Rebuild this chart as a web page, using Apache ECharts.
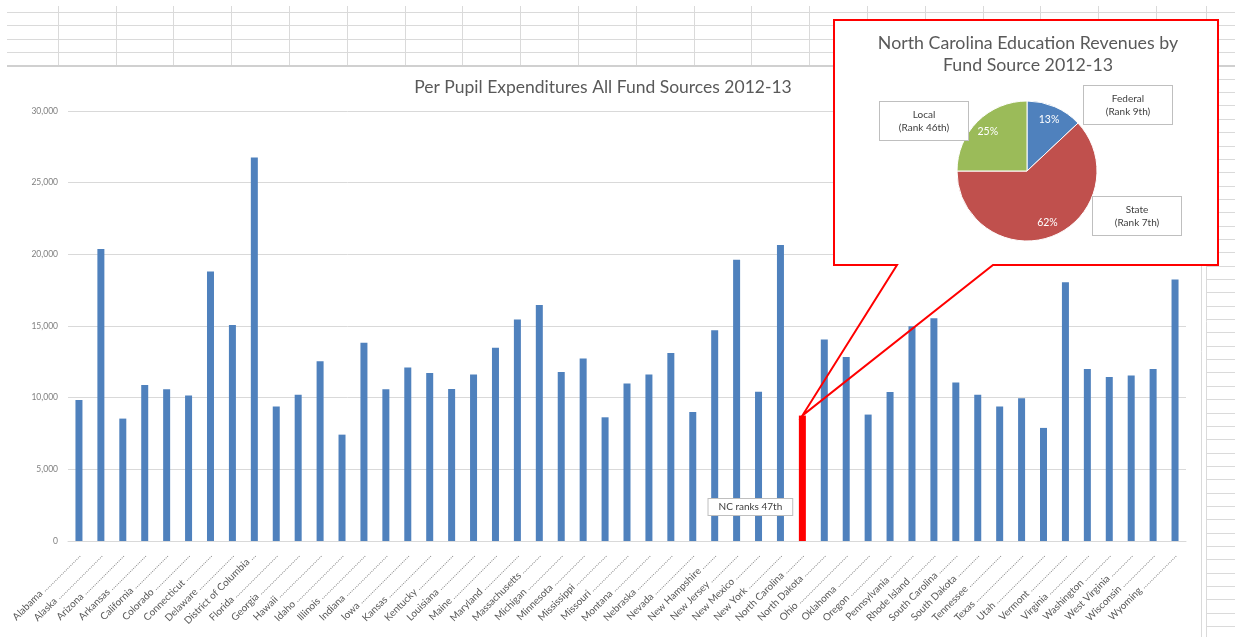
<!DOCTYPE html>
<html>
<head>
<meta charset="utf-8">
<script src="https://cdn.jsdelivr.net/npm/echarts@6/dist/echarts.min.js"></script>
<style>
  html, body { margin: 0; padding: 0; background: #fff; }
  #main { width: 1235px; height: 637px; }
</style>
</head>
<body>
<div id="main"></div>
<script>
// per pupil expenditures, all fund sources, 2012-13
const states = ['Alabama', 'Alaska', 'Arizona', 'Arkansas', 'California', 'Colorado', 'Connecticut',
  'Delaware', 'District of Columbia', 'Florida', 'Georgia', 'Hawaii', 'Idaho', 'Illinois', 'Indiana',
  'Iowa', 'Kansas', 'Kentucky', 'Louisiana', 'Maine', 'Maryland', 'Massachusetts', 'Michigan',
  'Minnesota', 'Mississippi', 'Missouri', 'Montana', 'Nebraska', 'Nevada', 'New Hampshire',
  'New Jersey', 'New Mexico', 'New York', 'North Carolina', 'North Dakota', 'Ohio', 'Oklahoma',
  'Oregon', 'Pennsylvania', 'Rhode Island', 'South Carolina', 'South Dakota', 'Tennessee', 'Texas',
  'Utah', 'Vermont', 'Virginia', 'Washington', 'West Virginia', 'Wisconsin', 'Wyoming'];
const expenditures = [9840, 20370, 8540, 10890, 10590, 10150, 18800, 15070, 26750, 9380, 10210,
  12540, 7420, 13840, 10590, 12100, 11720, 10610, 11610, 13490, 15450, 16470, 11790, 12730, 8630,
  10980, 11610, 13120, 9000, 14700, 19630, 10420, 20650, 8750, 14050, 12840, 8820, 10400, 14980,
  15540, 11050, 10210, 9380, 9960, 7890, 18050, 12000, 11450, 11540, 12000, 18240];
const yMin = 0, yMax = 30000, yStep = 5000;
const highlightState = 'North Carolina';
const highlightNote = 'NC ranks 47th';

// NC revenues by fund source
const fundSources = ['Federal', 'State', 'Local'];
const fundShares = [13, 62, 25];
const fundRanks = ['9th', '7th', '46th'];

const mainTitle = 'Per Pupil Expenditures All Fund Sources 2012-13';
const pieTitle = ['North Carolina Education Revenues by', 'Fund Source 2012-13'];

const BLUE = '#4f81bd', RED = '#c0504d', GREEN = '#9bbb59';
const FONT = 'Lato, "Open Sans", sans-serif';

// pad axis names with dot leaders, like the sheet does
const ctx = document.createElement('canvas').getContext('2d');
function padLabel(name) {
  ctx.font = '10px Lato';
  const w = ctx.measureText(name + ' ').width;
  ctx.font = '9px Lato';
  const dw = ctx.measureText('.').width;
  const n = Math.max(3, Math.round((92 - w) / dw));
  return '{n|' + name + ' }{d|' + '.'.repeat(n) + '}';
}

// spreadsheet cells behind the chart
const sheet = [];
const rowH = 13.35, row0 = 12;
function hline(x1, x2, y, w, c) {
  sheet.push({ type: 'line', silent: true, z: -10,
    shape: { x1: x1, y1: y, x2: x2, y2: y },
    style: { stroke: c || '#dadada', lineWidth: w || 1 } });
}
function vline(x, y1, y2, c) {
  sheet.push({ type: 'line', silent: true, z: -10,
    shape: { x1: x, y1: y1, x2: x, y2: y2 },
    style: { stroke: c || '#dadada', lineWidth: 1 } });
}
for (let r = 0; r < 4; r++) hline(7, 1235, Math.round(row0 + r * rowH) + 0.5);
hline(7, 1235, 66, 2, '#d0d0d0');
for (let i = 1; i <= 20; i++) vline(Math.round(i * 57.8) + 0.5, 6, 65);
vline(1201.5, 66, 637);
vline(1206.5, 6, 637);
for (let k = 5; row0 + k * rowH < 637; k++) hline(1206, 1235, Math.round(row0 + k * rowH) + 0.5);

const pieC = [1027, 171], pieR = 70;
const boxPos = [[1128, 105], [1137, 216], [924, 121]];

const barData = expenditures.map(function (v, i) {
  if (states[i] !== highlightState) return v;
  return {
    value: v,
    itemStyle: { color: '#ff0000' },
    label: {
      show: true, position: 'insideBottom', offset: [-52, -21],
      formatter: highlightNote, fontFamily: FONT, fontSize: 10, color: '#404040',
      backgroundColor: '#fff', borderColor: '#bfbfbf', borderWidth: 1, padding: [3, 10]
    }
  };
});

const pieData = fundSources.map(function (n, i) { return { name: n, value: fundShares[i] }; });

const chart = echarts.init(document.getElementById('main'));
chart.setOption({
  animation: false,
  backgroundColor: '#fff',
  textStyle: { fontFamily: FONT },
  grid: { left: 68, right: 49, top: 111, bottom: 96, outerBoundsMode: 'none' },
  xAxis: {
    type: 'category',
    data: states,
    axisTick: { show: false },
    axisLine: { lineStyle: { color: '#d9d9d9' } },
    axisLabel: {
      interval: 0, rotate: 45, margin: 13,
      formatter: padLabel,
      rich: {
        n: { fontFamily: FONT, fontSize: 10, color: '#595959' },
        d: { fontFamily: FONT, fontSize: 9, color: '#8c8c8c' }
      }
    }
  },
  yAxis: {
    type: 'value', min: yMin, max: yMax, interval: yStep,
    axisLine: { show: false }, axisTick: { show: false },
    axisLabel: {
      fontSize: 8.5, color: '#808080', margin: 10,
      formatter: function (v) { return v.toLocaleString('en-US'); }
    },
    splitLine: { lineStyle: { color: '#d9d9d9' } }
  },
  series: [
    {
      type: 'bar', data: barData, barWidth: 7, z: 2,
      itemStyle: { color: BLUE }
    },
    {
      // the slices
      type: 'pie', center: pieC, radius: [0, pieR], z: 20, silent: true,
      startAngle: 90, clockwise: true,
      data: pieData,
      color: [BLUE, RED, GREEN],
      itemStyle: { borderColor: '#fff', borderWidth: 1 },
      label: { show: false }, labelLine: { show: false },
      emphasis: { disabled: true }
    },
    {
      // percent labels, sitting out toward the rim
      type: 'pie', center: pieC, radius: [pieR * 0.5, pieR], z: 21, silent: true,
      startAngle: 90, clockwise: true,
      data: pieData,
      itemStyle: { color: 'rgba(0,0,0,0)' },
      label: { position: 'inside', formatter: '{c}%', color: '#fff', fontSize: 10.5, fontFamily: FONT },
      labelLine: { show: false },
      emphasis: { disabled: true }
    },
    {
      // name / rank boxes
      type: 'pie', center: pieC, radius: [0, pieR], z: 22, silent: true,
      startAngle: 90, clockwise: true, avoidLabelOverlap: false,
      data: pieData,
      itemStyle: { color: 'rgba(0,0,0,0)' },
      labelLine: { show: false },
      label: {
        position: 'outside',
        formatter: function (p) { return p.name + '\n(Rank ' + fundRanks[p.dataIndex] + ')'; },
        fontFamily: FONT, fontSize: 10, lineHeight: 13, color: '#404040',
        backgroundColor: '#fff', borderColor: '#bfbfbf', borderWidth: 1,
        padding: [6, 6], width: 76, align: 'center'
      },
      labelLayout: function (p) {
        const b = boxPos[p.dataIndex];
        return { x: b[0], y: b[1], align: 'center', verticalAlign: 'middle' };
      },
      emphasis: { disabled: true }
    }
  ],
  graphic: sheet.concat([
    { type: 'text', x: 603, y: 87, silent: true,
      style: { text: mainTitle, fill: '#595959', font: '17.5px Lato',
        align: 'center', verticalAlign: 'middle', textAlign: 'center', textVerticalAlign: 'middle' } }
  ])
});

// callout box pointing at the highlighted bar
const hi = states.indexOf(highlightState);
const tip = chart.convertToPixel({ seriesIndex: 0 }, [hi, expenditures[hi]]);
const outline = [[834, 20], [1218, 20], [1218, 265], [993, 265], [tip[0], tip[1]], [897, 265], [834, 265]];
chart.setOption({
  graphic: { elements: [
    { id: 'calloutFill', type: 'rect', z: 10, silent: true,
      shape: { x: 834, y: 20, width: 384, height: 245 },
      style: { fill: '#fff' } },
    { id: 'calloutLine', type: 'polygon', z: 11, silent: true,
      shape: { points: outline },
      style: { fill: 'none', stroke: '#ff0000', lineWidth: 2 } },
    { id: 'pt1', type: 'text', x: 1028, y: 43, z: 30, silent: true,
      style: { text: pieTitle[0], fill: '#595959', font: '17.8px Lato',
        align: 'center', verticalAlign: 'middle', textAlign: 'center', textVerticalAlign: 'middle' } },
    { id: 'pt2', type: 'text', x: 1028, y: 65, z: 30, silent: true,
      style: { text: pieTitle[1], fill: '#595959', font: '17.8px Lato',
        align: 'center', verticalAlign: 'middle', textAlign: 'center', textVerticalAlign: 'middle' } }
  ] }
});
</script>
</body>
</html>
